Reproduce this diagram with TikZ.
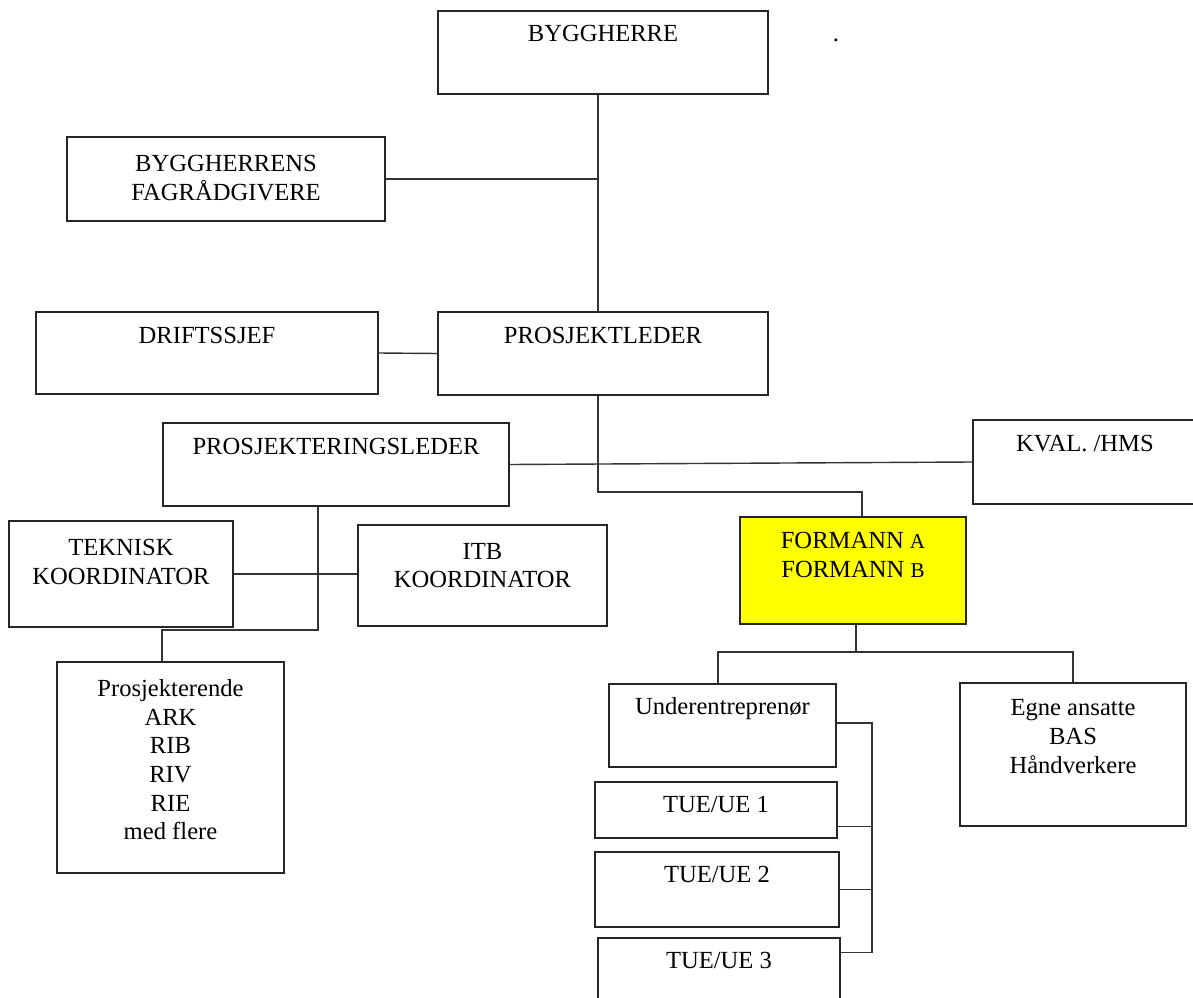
\documentclass[tikz,border=0pt]{standalone}
\usepackage{fontspec}
\setmainfont{Liberation Serif}
\usetikzlibrary{fit}

\newcommand\orgfont{\fontsize{14}{16.3}\selectfont}
\newcommand\smallcap[1]{{\fontsize{12}{14}\selectfont #1}}

\tikzset{
  orgbox/.style={draw=cbox, line width=0.8pt, inner sep=0pt},
  orgtext/.style={anchor=north, inner sep=0pt, align=center, text=ctext, font=\orgfont},
  link/.style={draw=clink, line width=0.8pt},
}

\begin{document}
\begin{tikzpicture}[x=0.02cm, y=-0.02cm]
%
\useasboundingbox (0,0) rectangle (1193,997);
%
\definecolor{cbox}{rgb}{0.15,0.15,0.15}
\definecolor{clink}{rgb}{0.2,0.2,0.2}
\definecolor{cform}{rgb}{1.0,1.0,0.0}
\definecolor{ctext}{rgb}{0.0,0.0,0.0}
%
\node[orgbox, fit={(438,11) (768,94)}, label={[orgtext,yshift=-0.3cm]north:BYGGHERRE}] (byggherre) {};
\node[orgbox, fit={(67,137) (385,221)}, label={[orgtext,yshift=-0.37cm]north:BYGGHERRENS\\FAGRÅDGIVERE}] (fagradgivere) {};
\node[orgbox, fit={(36,312) (378,394)}, label={[orgtext,yshift=-0.31cm]north:DRIFTSSJEF}] (driftssjef) {};
\node[orgbox, fit={(438,312) (768,395)}, label={[orgtext,yshift=-0.31cm]north:PROSJEKTLEDER}] (prosjektleder) {};
\node[orgbox, fit={(163,423) (509,506)}, label={[orgtext,yshift=-0.31cm]north:PROSJEKTERINGSLEDER}] (prosjekteringsleder) {};
\node[orgbox, fit={(973,420) (1197,504)}, label={[orgtext,yshift=-0.32cm]north:KVAL. /HMS}] (kval) {};
\node[orgbox, fit={(9,521) (233,627)}, label={[orgtext,yshift=-0.37cm]north:TEKNISK\\KOORDINATOR}] (teknisk) {};
\node[orgbox, fit={(358,525) (607,626)}, label={[orgtext,yshift=-0.37cm]north:ITB\\KOORDINATOR}] (itb) {};
\node[orgbox, fit={(57,662) (284,873)}, label={[orgtext,yshift=-0.36cm]north:Prosjekterende\\ARK\\RIB\\RIV\\RIE\\med flere}] (prosjekterende) {};
\node[orgbox, fit={(740,517) (966,624)}, fill=cform, label={[orgtext,yshift=-0.32cm]north:FORMANN \smallcap{A}\\FORMANN \smallcap{B}}] (formann) {};
\node[orgbox, fit={(609,684) (836,767)}, label={[orgtext,yshift=-0.28cm]north:Underentreprenør}] (under) {};
\node[orgbox, fit={(960,683) (1186,826)}, label={[orgtext,yshift=-0.34cm]north:Egne ansatte\\BAS\\Håndverkere}] (egne) {};
\node[orgbox, fit={(595,782) (837,838)}, label={[orgtext,yshift=-0.3cm]north:TUE/UE 1}] (tue1) {};
\node[orgbox, fit={(595,852) (839,927)}, label={[orgtext,yshift=-0.3cm]north:TUE/UE 2}] (tue2) {};
\node[orgbox, fit={(598,938) (840,1010)}, label={[orgtext,yshift=-0.3cm]north:TUE/UE 3}] (tue3) {};
\node[orgtext, anchor=center] (dot) at (836,40) {.};
%
\coordinate (spine) at (598,94);
\coordinate (fj) at (862,492);
\coordinate (pv) at (318,630);
\coordinate (pl) at (162,662);
\coordinate (fb) at (856,652);
\coordinate (ul) at (718,684);
\coordinate (bar) at (872,723);
\path (tue3.north east) ++(0,15) coordinate (t3);
\path (tue1.south east) ++(0,-12) coordinate (t1);
%
\draw[link] (byggherre.south -| spine) -- (prosjektleder.north -| spine);
\draw[link] (fagradgivere.east) -- (fagradgivere.east -| spine);
\draw[link] (driftssjef.east) -- (prosjektleder.west);
\draw[link] (prosjektleder.south -| spine) |- (fj) -- (fj |- formann.north);
\draw[link] (prosjekteringsleder.east) -- (kval.west);
\draw[link] (prosjekteringsleder.south -| pv) -- (pv) -| (prosjekterende.north -| pl);
\draw[link] (teknisk.east) -- (teknisk.east -| itb.west);
%
\draw[link] (formann.south -| fb) -- (fb);
\draw[link] (under.north -| ul) |- (egne.north |- fb) -- (egne.north);
\draw[link] (under.east |- bar) -- (bar) |- (t3);
\draw[link] (t1) -- (t1 -| bar);
\draw[link] (tue2.east) -- (tue2.east -| bar);
%
\end{tikzpicture}
\end{document}
